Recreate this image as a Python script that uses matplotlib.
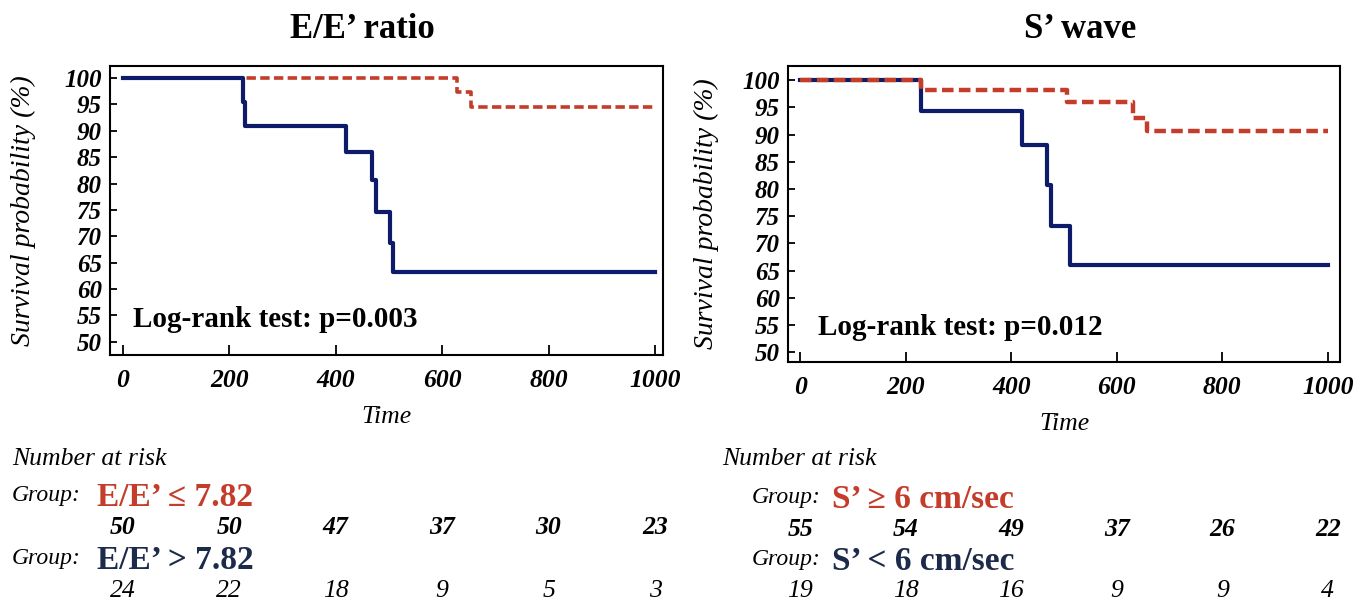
import numpy as np
import matplotlib.pyplot as plt
import matplotlib.transforms as mtransforms

plt.rcParams['font.family'] = ['Liberation Serif', 'DejaVu Serif']

# => Kaplan-Meier step data (time, survival % after each step)
time_ticks = [0, 200, 400, 600, 800, 1000]
surv_ticks = [50, 55, 60, 65, 70, 75, 80, 85, 90, 95, 100]

ee_low_times = [0, 628, 654, 1000]
ee_low_surv = [100, 97.4, 94.6, 94.6]
ee_high_times = [0, 226, 230, 419, 468, 475, 503, 508, 1000]
ee_high_surv = [100, 95.5, 90.9, 85.9, 80.6, 74.6, 68.8, 63.2, 63.2]

s_high_times = [0, 229, 505, 630, 658, 1000]
s_high_surv = [100, 98.2, 95.9, 93.0, 90.6, 90.6]
s_low_times = [0, 229, 421, 468, 476, 511, 1000]
s_low_surv = [100, 94.3, 88.0, 80.8, 73.2, 66.0, 66.0]

# => Number at risk
ee_low_risk = [50, 50, 47, 37, 30, 23]
ee_high_risk = [24, 22, 18, 9, 5, 3]
s_high_risk = [55, 54, 49, 37, 26, 22]
s_low_risk = [19, 18, 16, 9, 9, 4]

RED = '#c43c2a'
BLUE = '#0e1a6a'
DARK = '#1c2b4a'
H = 601.0


def panel(fig, rect, xlim, ylim, title, title_xy, red, blue, red_lw,
          red_top, pval, ylab_x, labels, risks, group_x, label_x, rows,
          nar_x):
    ax = fig.add_axes(rect)
    ax.step(red[0], red[1], where='post', color=RED, lw=red_lw,
            ls=(0, (2.6, 1.2)), zorder=4 if red_top else 2)
    ax.step(blue[0], blue[1], where='post', color=BLUE, lw=3.0, zorder=3)
    ax.set_xlim(*xlim)
    ax.set_ylim(*ylim)
    ax.set_xticks(time_ticks)
    ax.set_yticks(surv_ticks)
    ax.tick_params(axis='x', direction='in', length=7, width=1.3, pad=10,
                   labelsize=18.5)
    ax.tick_params(axis='y', direction='in', length=5, width=1.3, pad=6,
                   labelsize=18)
    for lab in ax.get_xticklabels() + ax.get_yticklabels():
        lab.set_fontstyle('italic')
        lab.set_fontweight('bold')
    for sp in ax.spines.values():
        sp.set_linewidth(1.5)
    ax.set_xlabel('Time', fontsize=18.5, style='italic', labelpad=10)
    ax.text(pval[0], pval[1], pval[2], fontsize=21, fontweight='bold',
            va='baseline', ha='left')
    fig.text(ylab_x, rect[1] + rect[3] / 2, 'Survival probability (%)',
             rotation=90, fontsize=20, style='italic', ha='center',
             va='center')
    fig.text(title_xy[0], title_xy[1], title, fontsize=25,
             fontweight='bold', ha='center', va='center')

    # => Number at risk table
    fig.text(nar_x, 1 - 459 / H, 'Number at risk', fontsize=18.5,
             style='italic', va='center')
    trans = mtransforms.blended_transform_factory(ax.transData,
                                                  fig.transFigure)
    colors = [RED, DARK]
    weights = ['bold', 'normal']
    for k in range(2):
        gy = 1 - rows[2 * k] / H
        ny = 1 - rows[2 * k + 1] / H
        fig.text(group_x, gy + 0.008, 'Group:', fontsize=17, style='italic',
                 va='baseline')
        fig.text(label_x, gy, labels[k], fontsize=24, fontweight='bold',
                 color=colors[k], va='baseline')
        for t, n in zip(time_ticks, risks[k]):
            ax.text(t, ny, str(n), transform=trans, fontsize=18.5,
                    style='italic', fontweight=weights[k], ha='center',
                    va='center')
    return ax


fig = plt.figure(figsize=(13.56, 6.01), dpi=100)

panel(fig, [110 / 1356, 1 - 355 / H, 553 / 1356, 289 / H],
      (-24, 1015), (47.5, 102.3), 'E/E\u2019 ratio', (362 / 1356, 1 - 29 / H),
      (ee_low_times, ee_low_surv), (ee_high_times, ee_high_surv), 2.6,
      False, (20, 52.8, 'Log-rank test: p=0.003'),
      23 / 1356,
      ['E/E\u2019 \u2264 7.82', 'E/E\u2019 > 7.82'],
      [ee_low_risk, ee_high_risk], 12 / 1356, 97 / 1356,
      [506, 528, 569, 591], 12 / 1356)

panel(fig, [788 / 1356, 1 - 362 / H, 552 / 1356, 296 / H],
      (-23, 1023), (48.2, 102.6), 'S\u2019 wave', (1080 / 1356, 1 - 30 / H),
      (s_high_times, s_high_surv), (s_low_times, s_low_surv), 3.2,
      True, (33, 53.2, 'Log-rank test: p=0.012'),
      706 / 1356,
      ['S\u2019 \u2265 6 cm/sec', 'S\u2019 < 6 cm/sec'],
      [s_high_risk, s_low_risk], 752 / 1356, 832 / 1356,
      [508, 529, 570, 591], 722 / 1356)

fig.savefig('out.png', dpi=100)
